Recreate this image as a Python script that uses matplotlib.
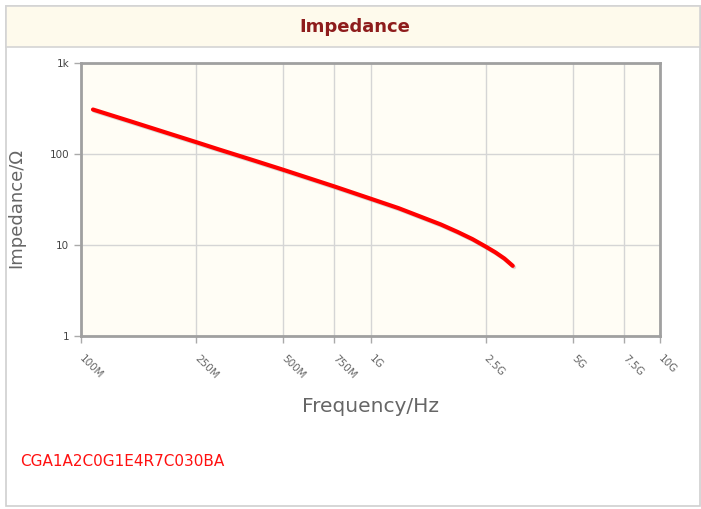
import matplotlib
matplotlib.use("Agg")
import matplotlib.pyplot as plt
import matplotlib.patheffects as pe
from matplotlib.patches import Rectangle

# Impedance curve
freq_hz = [110e6, 150e6, 200e6, 250e6, 300e6, 400e6, 500e6, 750e6,
           1.0e9, 1.25e9, 1.5e9, 1.75e9, 2.0e9, 2.25e9, 2.5e9, 2.7e9, 2.9e9, 3.1e9]
impedance_ohm = [308, 226, 169, 135, 112, 84, 67, 44,
                 32.3, 25.4, 20.3, 16.8, 13.9, 11.6, 9.6, 8.3, 7.1, 5.9]

x_ticks = [100e6, 250e6, 500e6, 750e6, 1e9, 2.5e9, 5e9, 7.5e9, 10e9]
x_tick_labels = ["100M", "250M", "500M", "750M", "1G", "2.5G", "5G", "7.5G", "10G"]
y_ticks = [1, 10, 100, 1000]
y_tick_labels = ["1", "10", "100", "1k"]
part_number = "CGA1A2C0G1E4R7C030BA"

W, H = 701, 509
fig = plt.figure(figsize=(W / 100, H / 100), dpi=100)
fig.patch.set_facecolor("white")


def px_rect(x0, y0, x1, y1, **kw):
    # rectangle given in pixel coords measured from the top-left corner
    return Rectangle((x0 / W, 1 - y1 / H), (x1 - x0) / W, (y1 - y0) / H,
                     transform=fig.transFigure, zorder=-5, **kw)


# outer panel and title bar
fig.add_artist(px_rect(6, 6, 700, 506, facecolor="white", edgecolor="#cfcfcf", linewidth=1.2))
fig.add_artist(px_rect(6, 6, 700, 47, facecolor="#fefaec", edgecolor="#d4d4d4", linewidth=1.2))
fig.text(355 / W, 1 - 27 / H, "Impedance", ha="center", va="center",
         fontsize=13, fontweight="bold", color="#8e1c1c")

# plot area
ax = fig.add_axes([81 / W, 1 - 336 / H, 579 / W, 273 / H])
ax.set_facecolor("#fffdf5")
ax.set_xscale("log")
ax.set_yscale("log")
ax.set_xlim(100e6, 10e9)
ax.set_ylim(1, 1000)

ax.plot(freq_hz, impedance_ohm, color="#ff0000", linewidth=3, solid_capstyle="round",
        path_effects=[pe.SimpleLineShadow(offset=(1, -1), shadow_color="#888888", alpha=0.3),
                      pe.Normal()], zorder=3)

ax.set_xticks(x_ticks)
ax.set_xticklabels(x_tick_labels, rotation=-45, ha="left", va="center",
                   rotation_mode="anchor", fontsize=7.5, color="#666666")
ax.set_yticks(y_ticks)
ax.set_yticklabels(y_tick_labels, fontsize=7.5, color="#444444")
ax.minorticks_off()
ax.tick_params(axis="both", direction="out", length=5, width=1, color="#aaaaaa")
ax.tick_params(axis="x", pad=10)
ax.grid(True, color="#d5d5d5", linewidth=1)
ax.set_axisbelow(True)

for side in ["left", "bottom", "top", "right"]:
    ax.spines[side].set_color("#a0a0a0")
    ax.spines[side].set_linewidth(2)
    ax.spines[side].set_path_effects([
        pe.SimplePatchShadow(offset=(1.5, -1.5), shadow_rgbFace="#bbbbbb", alpha=0.5),
        pe.Normal()])

ax.set_xlabel("Frequency/Hz", fontsize=14.5, color="#666666")
ax.set_ylabel("Impedance/\u03a9", fontsize=13, color="#666666")
ax.xaxis.set_label_coords(0.5, -0.225)
ax.yaxis.set_label_coords(-0.097, 0.47)

fig.text(20 / W, 1 - 462 / H, part_number, ha="left", va="center",
         fontsize=11, color="#ff1010")

plt.savefig("out.png", dpi=100)
